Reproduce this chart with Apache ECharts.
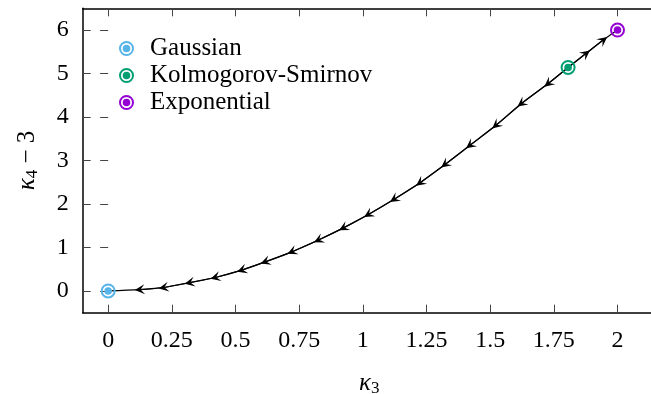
<!DOCTYPE html>
<html>
<head>
<meta charset="utf-8">
<script src="https://cdn.jsdelivr.net/npm/echarts@6/dist/echarts.min.js"></script>
<style>
  html, body { margin: 0; padding: 0; background: #fff; }
  #chart { width: 651px; height: 394px; }
</style>
</head>
<body>
<div id="chart"></div>
<script>
// curve: kappa3 vs kappa4 - 3
const kappa3 = [0, 0.124, 0.218, 0.320, 0.421, 0.525, 0.617, 0.722, 0.826, 0.924, 1.022,
  1.123, 1.225, 1.323, 1.421, 1.523, 1.623, 1.728, 1.806, 1.876, 1.944, 2.0];
const kappa4m3 = [0, 0.03, 0.08, 0.19, 0.31, 0.48, 0.67, 0.90, 1.17, 1.45, 1.76,
  2.11, 2.49, 2.91, 3.35, 3.81, 4.31, 4.77, 5.14, 5.46, 5.77, 6.0];

// arrow heads sit on curve points; toward lower index = flow to Gaussian
const arrowsDown = [1, 2, 3, 4, 5, 6, 7, 8, 9, 10, 11, 12, 13, 14, 15, 16, 17];
const arrowsUp = [19, 20];

const distNames = ['Gaussian', 'Kolmogorov-Smirnov', 'Exponential'];
const distX = [0, 1.806, 2.0];
const distY = [0, 5.14, 6.0];
const distColors = ['#56b4e9', '#009e73', '#9400d3'];

const xTicks = [0, 0.25, 0.5, 0.75, 1, 1.25, 1.5, 1.75, 2];
const yTicks = [0, 1, 2, 3, 4, 5, 6];

// ring + white gap + dot
const ringPath = 'path://M0,-7.5A7.5,7.5 0 1,1 0,7.5A7.5,7.5 0 1,1 0,-7.5Z' +
  'M0,-5.5A5.5,5.5 0 1,0 0,5.5A5.5,5.5 0 1,0 0,-5.5Z' +
  'M0,-3.8A3.8,3.8 0 1,1 0,3.8A3.8,3.8 0 1,1 0,-3.8Z';
// barbed arrow head, pointing up
const headPath = 'path://M0,0L4.5,9L0,5.2L-4.5,9Z';

const FONT = 'Liberation Serif';
const chart = echarts.init(document.getElementById('chart'));

const curve = kappa3.map((x, i) => [x, kappa4m3[i]]);
const pt = i => [kappa3[i], kappa4m3[i]];
const arrowData = arrowsDown.map(i => ({ coords: [pt(i + 1), pt(i)] }))
  .concat(arrowsUp.map(i => ({ coords: [pt(i - 1), pt(i)] })));

const axisCommon = {
  type: 'value',
  splitLine: { show: false },
  axisLine: { show: true, onZero: false, lineStyle: { color: '#000', width: 1.5 } },
  axisTick: { show: true, inside: true, length: 8, lineStyle: { color: '#444', width: 1 } }
};

chart.setOption({
  animation: false,
  grid: { left: 82.7, top: 8.3, width: 573, height: 304.4, outerBoundsMode: 'none' },
  legend: {
    left: 114, top: 31, orient: 'vertical',
    itemWidth: 15, itemHeight: 15, itemGap: 2,
    data: distNames,
    textStyle: { fontFamily: FONT, fontSize: 25, color: '#000', padding: [0, 0, 0, 11] }
  },
  xAxis: [
    Object.assign({}, axisCommon, {
      min: -0.1, max: 2.15, position: 'bottom',
      axisTick: Object.assign({}, axisCommon.axisTick, { customValues: xTicks }),
      axisLabel: { customValues: xTicks, margin: 16, fontFamily: FONT, fontSize: 24, color: '#000' },
      name: '{k|κ}{s|3}', nameLocation: 'middle', nameGap: 57,
      nameTextStyle: { rich: {
        k: { fontFamily: FONT, fontStyle: 'italic', fontSize: 25, color: '#000' },
        s: { fontFamily: FONT, fontSize: 17, color: '#000', padding: [10, 0, 0, 0] }
      } }
    }),
    Object.assign({}, axisCommon, {
      min: -0.1, max: 2.15, position: 'top',
      axisTick: Object.assign({}, axisCommon.axisTick, { customValues: xTicks }),
      axisLabel: { show: false }
    })
  ],
  yAxis: [
    Object.assign({}, axisCommon, {
      min: -0.5, max: 6.5, position: 'left',
      axisTick: Object.assign({}, axisCommon.axisTick, { customValues: yTicks }),
      axisLabel: { customValues: yTicks, margin: 14, fontFamily: FONT, fontSize: 24, color: '#000' },
      name: '{k|κ}{s|4}{n| − 3}', nameLocation: 'middle', nameGap: 42, nameRotate: 90,
      nameTextStyle: { rich: {
        k: { fontFamily: FONT, fontStyle: 'italic', fontSize: 25, color: '#000' },
        s: { fontFamily: FONT, fontSize: 17, color: '#000', padding: [10, 0, 0, 0] },
        n: { fontFamily: FONT, fontSize: 25, color: '#000' }
      } }
    }),
    Object.assign({}, axisCommon, {
      min: -0.5, max: 6.5, position: 'right',
      axisLine: { show: false },
      axisTick: Object.assign({}, axisCommon.axisTick, { customValues: yTicks }),
      axisLabel: { show: false }
    })
  ],
  series: [
    {
      type: 'line', data: curve, smooth: 0.3, symbol: 'none', z: 2,
      lineStyle: { color: '#000', width: 1.2 }
    },
    {
      type: 'lines', coordinateSystem: 'cartesian2d', data: arrowData, z: 3,
      symbol: ['none', headPath], symbolSize: [10, 10],
      lineStyle: { color: '#000', width: 1.2, opacity: 1 },
      itemStyle: { color: '#000' }
    }
  ].concat(distNames.map((name, i) => ({
    name: name, type: 'scatter', z: 5,
    data: [[distX[i], distY[i]]],
    symbol: ringPath, symbolSize: 15,
    itemStyle: { color: distColors[i], opacity: 1 }
  })))
});
</script>
</body>
</html>
